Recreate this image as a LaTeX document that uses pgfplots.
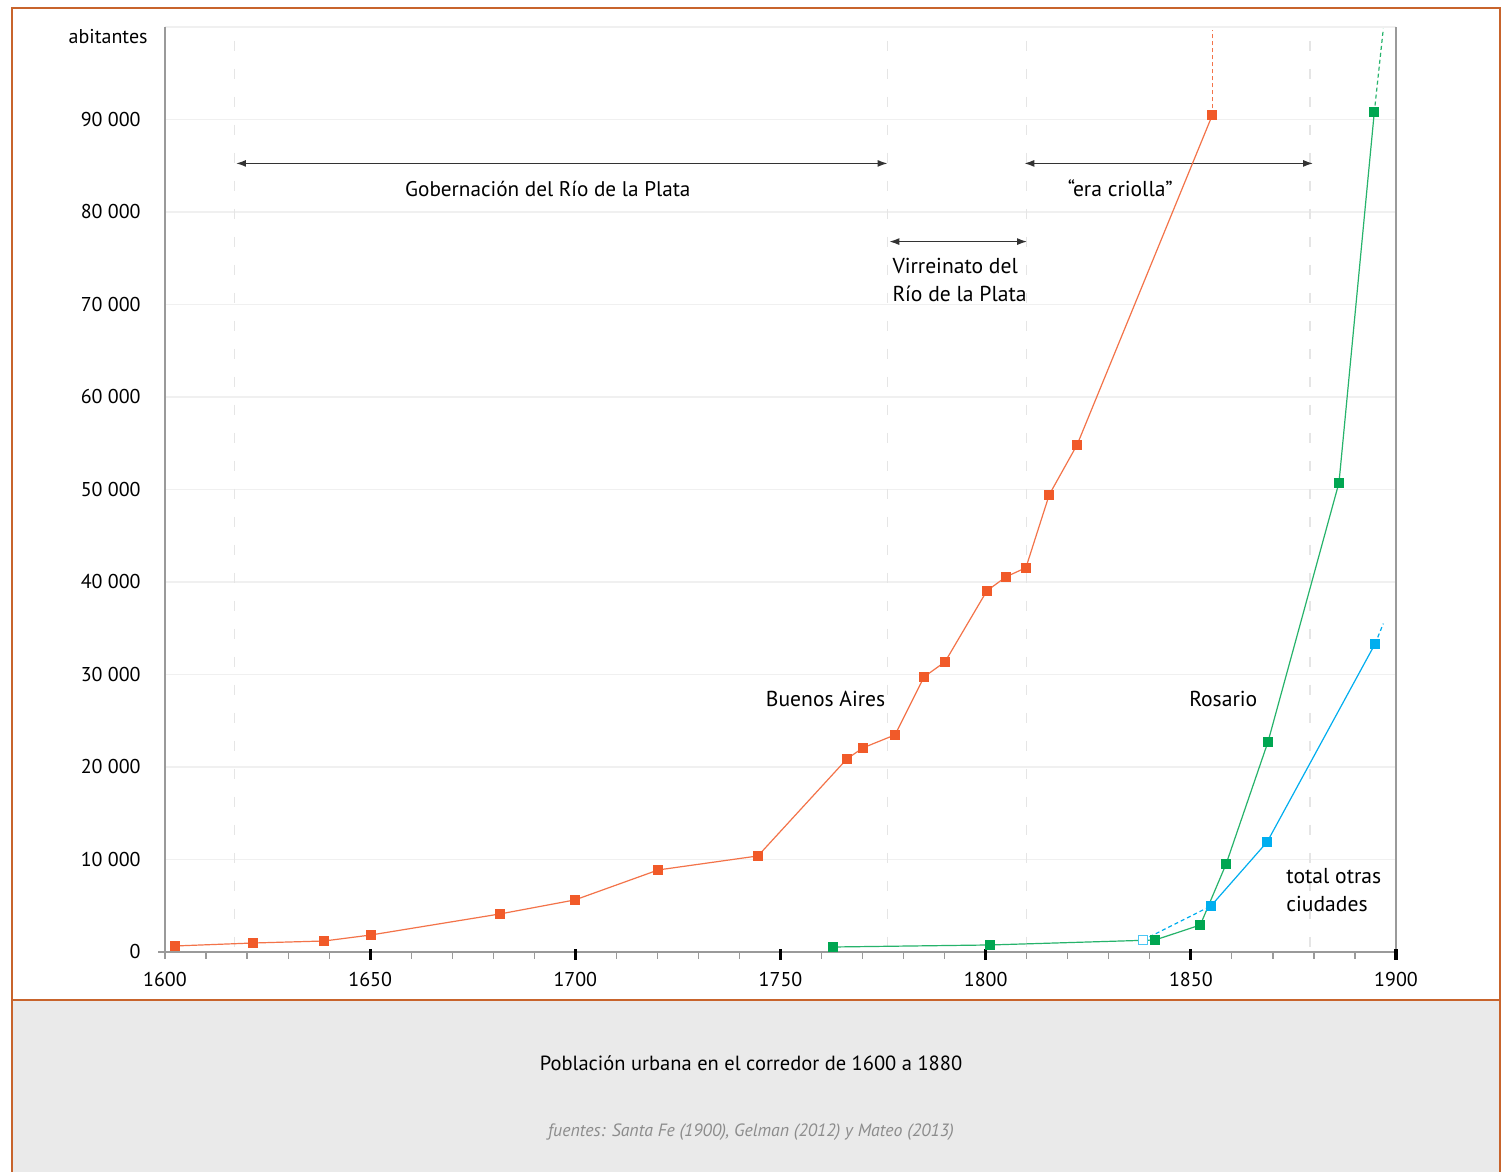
\documentclass[border=0pt]{standalone}
\usepackage{fontspec}
\setmainfont{PT Sans}
\usepackage{pgfplots}
\pgfplotsset{compat=1.18}
\usetikzlibrary{arrows.meta}
\definecolor{frameorange}{HTML}{C8642C}
\definecolor{baorange}{HTML}{F15A29}
\definecolor{rosgreen}{HTML}{00A651}
\definecolor{otrblue}{HTML}{00AEEF}
\definecolor{captiongrey}{HTML}{EAEAEA}
\definecolor{axisgrey}{HTML}{9A9A9A}
\definecolor{arrowgrey}{HTML}{333333}
\begin{document}
\begin{tikzpicture}[x=1bp,y=1bp]
\useasboundingbox (-82.5,-110) rectangle (672.5,476);
\fill[white] (-82.5,-110) rectangle (672.5,476);
\fill[captiongrey] (-76.5,-24) rectangle (667.5,-110);
\draw[frameorange, line width=1bp] (-76.5,-110) -- (-76.5,472) -- (667.5,472) -- (667.5,-110);
\draw[frameorange, line width=1bp] (-76.5,-24) -- (667.5,-24);
\begin{axis}[at={(0,0)}, anchor=south west, scale only axis,
  width=615.5bp, height=462.5bp,
  xmin=1600, xmax=1900, ymin=0, ymax=100000, clip=false,
  scaled y ticks=false, scaled x ticks=false,
  axis line style={draw=none},
  major tick length=0pt, minor tick length=0pt,
  tick style={draw=none},
  xtick={1600,1650,...,1900},
  xticklabels={1600,1650,1700,1750,1800,1850,1900},
  ytick={0,10000,...,100000},
  yticklabels={0,10 000,20 000,30 000,40 000,50 000,60 000,70 000,80 000,90 000,{}},
  ymajorgrids, grid style={black!6, line width=0.6bp},
  /pgf/number format/assume math mode=true,
  xticklabel style={anchor=center, inner sep=0pt, yshift=-14bp, font=\fontsize{10bp}{12bp}\selectfont},
  yticklabel style={anchor=east, inner sep=0pt, xshift=-12bp, font=\fontsize{10bp}{12bp}\selectfont},
  every axis plot/.append style={line width=0.6bp, mark=square*, mark size=2.2bp},
]
% vertical dashed period lines
\pgfplotsinvokeforeach{1617,1776,1810,1879}{
  \draw[black!10, line width=0.7bp, dash pattern=on 5bp off 9bp] (axis cs:#1,98500) -- (axis cs:#1,0);
}
% axis lines
\draw[axisgrey, line width=0.7bp] (axis cs:1600,0) -- (axis cs:1600,100000);
\draw[axisgrey, line width=0.7bp] (axis cs:1900,0) -- (axis cs:1900,100000);
\draw[axisgrey, line width=0.7bp] (axis cs:1598.3,0) -- (axis cs:1900.3,0);
% minor ticks
\pgfplotsinvokeforeach{1600,1610,...,1890}{
  \draw[axisgrey, line width=0.6bp] (axis cs:#1,0) -- ++(0bp,-3.5bp);
}
% major ticks
\pgfplotsinvokeforeach{1650,1700,...,1900}{
  \draw[black, line width=1.6bp] (axis cs:#1,0) ++(0bp,1.3bp) -- ++(0bp,-5.5bp);
}
% arrows
\draw[arrowgrey, line width=0.7bp, {Latex[length=5bp,width=3.5bp]}-{Latex[length=5bp,width=3.5bp]}] (axis cs:1617.3,85250) -- (axis cs:1776.1,85250);
\draw[arrowgrey, line width=0.7bp, {Latex[length=5bp,width=3.5bp]}-{Latex[length=5bp,width=3.5bp]}] (axis cs:1809.4,85250) -- (axis cs:1879.8,85250);
\draw[arrowgrey, line width=0.7bp, {Latex[length=5bp,width=3.5bp]}-{Latex[length=5bp,width=3.5bp]}] (axis cs:1776.5,76800) -- (axis cs:1810.1,76800);
% annotations
\node[font=\fontsize{10.6bp}{14bp}\selectfont] at (axis cs:1693.3,82450) {Gobernación del Río de la Plata};
\node[font=\fontsize{10.8bp}{14bp}\selectfont] at (axis cs:1832.8,82550) {“era criolla”};
\node[font=\fontsize{10.8bp}{14bp}\selectfont, anchor=west, align=left, inner sep=0pt] at (axis cs:1777.2,72600) {Virreinato del\\Río de la Plata};
\node[font=\fontsize{10.8bp}{14bp}\selectfont] at (axis cs:1761,27400) {Buenos Aires};
\node[font=\fontsize{10.8bp}{14bp}\selectfont] at (axis cs:1857.9,27400) {Rosario};
\node[font=\fontsize{10.8bp}{14bp}\selectfont, anchor=west, align=left, inner sep=0pt] at (axis cs:1873.2,6700) {total otras\\ciudades};
% dashed continuations
\addplot[baorange!85, line width=0.6bp, no marks, dash pattern=on 2bp off 1.5bp] coordinates {(1855.2,90440) (1855.2,99700)};
\addplot[rosgreen!85, line width=0.6bp, no marks, dash pattern=on 2bp off 1.5bp] coordinates {(1894.7,90760) (1896.9,99800)};
\addplot[otrblue, line width=0.6bp, no marks, dash pattern=on 2bp off 1.5bp] coordinates {(1894.9,33320) (1896.9,35500)};
\addplot[otrblue, line width=0.6bp, no marks, dash pattern=on 2bp off 1.5bp] coordinates {(1838.4,1300) (1854.9,4980)};
% Buenos Aires
\addplot[color=baorange!85, mark options={fill=baorange, draw=baorange}] coordinates {
(1602.4,650) (1621.4,970) (1638.8,1190) (1650.2,1840) (1681.6,4110) (1699.9,5630)
(1720.2,8870) (1744.5,10385) (1766.2,20880) (1770.1,22070) (1777.9,23470)
(1785.0,29750) (1790.1,31370) (1800.3,39050) (1805.0,40570) (1809.8,41540)
(1815.5,49440) (1822.3,54850) (1855.2,90440)};
% Rosario
\addplot[color=rosgreen!85, mark options={fill=rosgreen, draw=rosgreen}] coordinates {
(1762.8,540) (1801.1,760) (1841.3,1300) (1852.3,2920) (1858.6,9520)
(1868.8,22720) (1886.1,50740) (1894.7,90760)};
% total otras ciudades
\addplot[color=otrblue, mark options={fill=otrblue, draw=otrblue}] coordinates {
(1854.9,4980) (1868.6,11900) (1894.9,33320)};
\addplot[only marks, mark=square*, mark size=2.2bp, mark options={fill=white, draw=otrblue!70, line width=0.5bp}] coordinates {(1838.4,1300)};
\end{axis}
\node[anchor=east, inner sep=0pt, font=\fontsize{10bp}{12bp}\selectfont] at (-8.5,457.5) {abitantes};
\node[font=\fontsize{10.25bp}{12bp}\selectfont] at (293,-55.5) {Población urbana en el corredor de 1600 a 1880};
\node[text=black!45, font=\fontsize{8.9bp}{10bp}\selectfont\itshape] at (293,-90) {fuentes: Santa Fe (1900), Gelman (2012) y Mateo (2013)};
\end{tikzpicture}
\end{document}
